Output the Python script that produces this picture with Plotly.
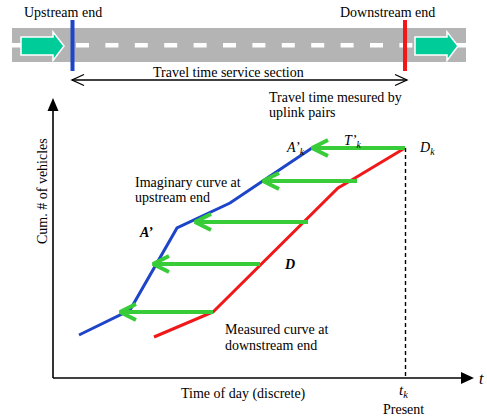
import plotly.graph_objects as go

W, H = 487, 418
FONT = "Liberation Serif, Times New Roman, serif"

# ---- diagram data (canvas units: x right, y down) ----
blue_x = [79, 130, 177, 230, 312]
blue_y = [335, 310, 228, 203, 148]
red_x = [154, 213, 338, 350, 405]
red_y = [337, 312, 188, 181, 148]

arrow_y = [148, 181, 222, 264, 312]
arrow_from_x = [405, 357, 308, 260, 213]
arrow_to_x = [312, 263, 195, 153, 120]

dash_starts = [12] + [76 + 29.4 * i for i in range(12)]

BLUE = "#1E44C8"
RED = "#F01818"
GREEN = "#38CC38"
TEAL = "#00CC99"
GRAY = "#B4B4B4"

fig = go.Figure()
shapes = []
annots = []

# road
shapes.append(dict(type="rect", x0=12, x1=466, y0=28, y1=62, fillcolor=GRAY, line_width=0, layer="below"))
for s in dash_starts:
    e = min(s + 13, 466)
    shapes.append(dict(type="rect", x0=s, x1=e, y0=43, y1=47.5, fillcolor="white", line_width=0, layer="below"))
shapes.append(dict(type="rect", x0=456, x1=466, y0=43, y1=47.5, fillcolor="white", line_width=0, layer="below"))


def road_arrow(x0, x1, head_len=11):
    xb = x1 - head_len
    return (f"M {x0},37 L {xb},37 L {xb},32 L {x1},46 L {xb},60.5 L {xb},55 L {x0},55 Z")


for x0, x1 in [(21, 64), (415, 458)]:
    shapes.append(dict(type="path", path=road_arrow(x0, x1), fillcolor=TEAL,
                       line=dict(color="white", width=1.5)))

# section boundaries
shapes.append(dict(type="line", x0=72.5, x1=72.5, y0=20, y1=71, line=dict(color=BLUE, width=4)))
shapes.append(dict(type="line", x0=405, x1=405, y0=20, y1=71, line=dict(color=RED, width=4)))

# double arrow
shapes.append(dict(type="line", x0=72, x1=407, y0=80, y1=80, line=dict(color="black", width=1.3)))
for tip, d in [(72, 1), (407, -1)]:
    shapes.append(dict(type="path", path=f"M {tip + d*12},74.5 L {tip},80 L {tip + d*12},85.5",
                       line=dict(color="black", width=1.3)))

# axes
shapes.append(dict(type="line", x0=53, x1=53, y0=378, y1=108, line=dict(color="black", width=1.6)))
shapes.append(dict(type="path", path="M 53,98 L 47.5,111 L 58.5,111 Z", fillcolor="black", line_width=0))
shapes.append(dict(type="line", x0=53, x1=463, y0=378, y1=378, line=dict(color="black", width=1.6)))
shapes.append(dict(type="path", path="M 474,378 L 461,372 L 461,384 Z", fillcolor="black", line_width=0))

# present dashed line
shapes.append(dict(type="line", x0=405.5, x1=405.5, y0=148, y1=378,
                   line=dict(color="black", width=1.4, dash="4px,3px")))

# curves
fig.add_trace(go.Scatter(x=blue_x, y=blue_y, mode="lines", line=dict(color=BLUE, width=3), hoverinfo="skip"))
fig.add_trace(go.Scatter(x=red_x, y=red_y, mode="lines", line=dict(color=RED, width=3), hoverinfo="skip"))

# green travel-time arrows
for y, xf, xt in zip(arrow_y, arrow_from_x, arrow_to_x):
    fig.add_trace(go.Scatter(x=[xf, xt], y=[y, y], mode="lines", line=dict(color=GREEN, width=4), hoverinfo="skip"))
    fig.add_trace(go.Scatter(x=[xt + 16, xt, xt + 16], y=[y - 8, y, y + 8], mode="lines",
                             line=dict(color=GREEN, width=4), hoverinfo="skip"))


def txt(x, y, s, xanchor="left", size=14, angle=0):
    annots.append(dict(x=x, y=y, text=s, showarrow=False, xanchor=xanchor, yanchor="middle",
                       textangle=angle, font=dict(family=FONT, size=size, color="black")))


txt(63, 12, "Upstream end", "center")
txt(387, 12, "Downstream end", "center")
txt(228, 72, "Travel time service section", "center")
txt(267, 97, "Travel time mesured by")
txt(267, 112, "uplink pairs")
txt(42, 191, "Cum. # of vehicles", "center", angle=-90)
txt(243, 394, "Time of day (discrete)", "center")
txt(403, 391, "<i>t<sub>k</sub></i>", "center", size=15)
txt(403, 409, "Present", "center")
txt(481, 378, "<i>t</i>", "center", size=16)
txt(133, 182, "Imaginary curve at")
txt(133, 197, "upstream end")
txt(137, 232, "<b><i>A’</i></b>")
txt(284, 148, "<i>A’<sub>k</sub></i>")
txt(342, 141, "<i>T’<sub>k</sub></i>")
txt(417, 148, "<i>D<sub>k</sub></i>")
txt(282, 264, "<b><i>D</i></b>")
txt(223, 329, "Measured curve at")
txt(223, 345, "downstream end")

fig.update_layout(
    width=W, height=H, margin=dict(l=0, r=0, t=0, b=0),
    paper_bgcolor="white", plot_bgcolor="white", showlegend=False,
    xaxis=dict(range=[0, W], visible=False, fixedrange=True),
    yaxis=dict(range=[H, 0], visible=False, fixedrange=True),
    shapes=shapes, annotations=annots,
)
fig.write_html("out.html", config={"displayModeBar": False},
               post_script="document.body.style.margin='0';document.body.style.overflow='hidden';")
